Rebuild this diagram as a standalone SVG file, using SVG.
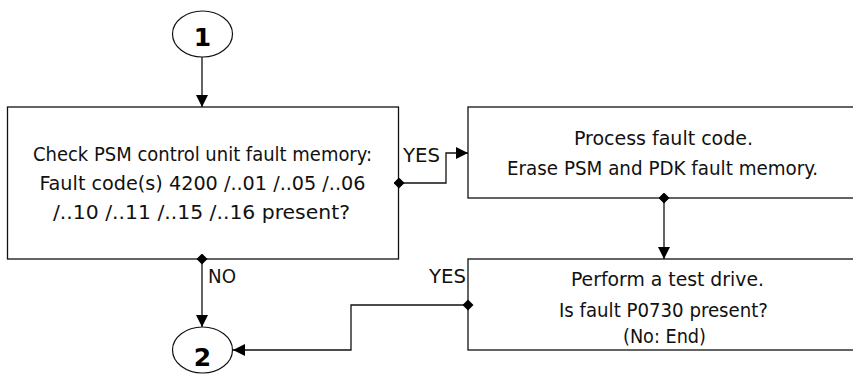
<svg xmlns="http://www.w3.org/2000/svg" width="853" height="378" viewBox="0 0 853 378">
<style>
.box{fill:#fff;stroke:#111;stroke-width:1.3}
.oval{fill:#fff;stroke:#111;stroke-width:1.2}
.t{font-family:"DejaVu Sans Condensed","DejaVu Sans",sans-serif;font-size:20px;fill:#111;text-anchor:middle}
.lbl{font-family:"DejaVu Sans Condensed","DejaVu Sans",sans-serif;font-size:20px;fill:#111}
.num{font-family:"DejaVu Sans","Liberation Sans",sans-serif;font-weight:bold;font-size:25px;fill:#000;text-anchor:middle}
.c{fill:none;stroke:#111;stroke-width:1.3;marker-end:url(#arr)}
.d{marker-start:url(#dia)}
</style>
<defs>
<marker id="arr" markerUnits="userSpaceOnUse" markerWidth="12" markerHeight="12" refX="12" refY="6" orient="auto"><path d="M0,0 L12,6 L0,12 z" fill="#000"/></marker>
<marker id="dia" markerUnits="userSpaceOnUse" markerWidth="11" markerHeight="11" refX="5.5" refY="5.5" orient="auto"><path d="M0,5.5 L5.5,0 L11,5.5 L5.5,11 z" fill="#000"/></marker>
</defs>
<g id="start1">
<ellipse class="oval" cx="202.5" cy="34" rx="30" ry="23"/>
<text class="num" x="202.5" y="46">1</text>
</g>
<g id="check">
<rect class="box" x="7.5" y="107" width="391" height="152"/>
<text class="t" x="202.5" y="161" textLength="339" lengthAdjust="spacingAndGlyphs">Check PSM control unit fault memory:</text>
<text class="t" x="202.5" y="190" textLength="326" lengthAdjust="spacingAndGlyphs">Fault code(s) 4200 /..01 /..05 /..06</text>
<text class="t" x="201.5" y="219" textLength="297" lengthAdjust="spacingAndGlyphs">/..10 /..11 /..15 /..16 present?</text>
</g>
<g id="process">
<rect class="box" x="468" y="107" width="400" height="91"/>
<text class="t" x="663.5" y="145" textLength="179" lengthAdjust="spacingAndGlyphs">Process fault code.</text>
<text class="t" x="662.5" y="175" textLength="311" lengthAdjust="spacingAndGlyphs">Erase PSM and PDK fault memory.</text>
</g>
<g id="testdrive">
<rect class="box" x="468" y="259" width="400" height="91"/>
<text class="t" x="667.5" y="286" textLength="193" lengthAdjust="spacingAndGlyphs">Perform a test drive.</text>
<text class="t" x="663.5" y="317" textLength="209" lengthAdjust="spacingAndGlyphs">Is fault P0730 present?</text>
<text class="t" x="664.5" y="343" textLength="83" lengthAdjust="spacingAndGlyphs">(No: End)</text>
</g>
<g id="end2">
<ellipse class="oval" cx="202.5" cy="350" rx="30" ry="23"/>
<text class="num" x="202.5" y="366">2</text>
</g>
<g id="connectors">
<path class="c" d="M202,57 L202,107"/>
<path class="c d" d="M399,183 L446,183 L446,153 L468,153"/>
<path class="c d" d="M202,259 L202,327"/>
<path class="c d" d="M664,198 L664,259"/>
<path class="c d" d="M468,305 L351,305 L351,350 L233,350"/>
<text class="lbl" x="403" y="162" textLength="37" lengthAdjust="spacingAndGlyphs">YES</text>
<text class="lbl" x="208" y="283" textLength="28" lengthAdjust="spacingAndGlyphs">NO</text>
<text class="lbl" x="429" y="283" textLength="37" lengthAdjust="spacingAndGlyphs">YES</text>
</g>
</svg>
